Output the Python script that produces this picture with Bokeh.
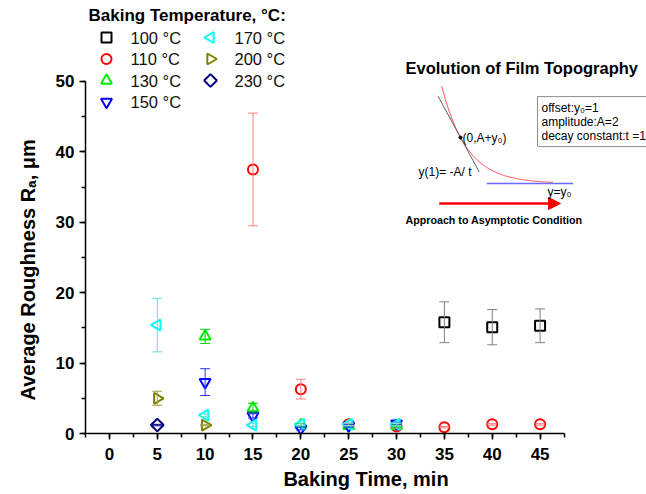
import numpy as np
from bokeh.plotting import figure
from bokeh.models import (Range1d, SingleIntervalTicker, Whisker, TeeHead, ColumnDataSource,
                          Label, Arrow, NormalHead)
from bokeh.core.properties import value
from bokeh.embed import file_html
from bokeh.resources import INLINE

# ---------------- data ----------------
temps = ["100 °C", "110 °C", "130 °C", "150 °C", "170 °C", "200 °C", "230 °C"]

t100 = [35, 40, 45]
r100 = [15.8, 15.1, 15.3]
e100 = [2.9, 2.5, 2.4]

t110 = [15, 20, 25, 30, 35, 40, 45]
r110 = [37.5, 6.3, 1.3, 1.0, 0.9, 1.3, 1.3]
e110 = [8.0, 1.4, 0.2, 0.2, 0.1, 0.1, 0.1]

t130 = [10, 15, 20, 25, 30]
r130 = [13.8, 3.6, 1.2, 1.1, 1.1]
e130 = [1.0, 0.7, 0.2, 0.2, 0.2]

t150 = [10, 15, 20, 25, 30]
r150 = [7.3, 2.5, 0.7, 1.1, 1.4]
e150 = [1.9, 0.3, 0.2, 0.2, 0.2]

t170 = [5, 10, 15, 20, 25, 30]
r170 = [15.4, 2.6, 1.2, 1.3, 1.3, 1.3]
e170 = [3.8, 0.2, 0.2, 0.2, 0.2, 0.2]

t200 = [5, 10]
r200 = [5.0, 1.2]
e200 = [1.0, 0.1]

t230 = [5]
r230 = [1.2]
e230 = [0.1]

# inset model parameters (as written in the inset)
y0 = 1.0
amp = 2.0
tau = 1.0

FONT = "Liberation Sans"

# frame spans the whole drawing area; axes are bounded to the data region
p = figure(frame_width=561, frame_height=433,
           x_range=Range1d(-2.5, 56.12), y_range=Range1d(0, 61.5),
           output_backend="svg", toolbar_location=None,
           min_border_left=85, min_border_top=0, min_border_right=0, min_border_bottom=61)
p.outline_line_color = None
p.xgrid.visible = False
p.ygrid.visible = False
p.background_fill_color = "white"
p.border_fill_color = "white"

for ax, interval, bnds in ((p.xaxis[0], 5, (-2.5, 47.5)), (p.yaxis[0], 10, (0, 50))):
    ax.ticker = SingleIntervalTicker(interval=interval, num_minor_ticks=2)
    ax.bounds = bnds
    ax.axis_line_width = 1.5
    ax.major_tick_line_width = 1.5
    ax.minor_tick_line_width = 1.5
    ax.major_tick_in = 0
    ax.major_tick_out = 6
    ax.minor_tick_in = 0
    ax.minor_tick_out = 4
    ax.major_label_text_font = FONT
    ax.major_label_text_font_style = "bold"
    ax.major_label_text_font_size = "17px"
    ax.major_label_text_color = "black"
    ax.axis_label_text_font = FONT
    ax.axis_label_text_font_style = "bold"
    ax.axis_label_text_font_size = "20px"
    ax.axis_label_text_color = "black"

p.xaxis.axis_label = "Baking Time, min"
p.xaxis.major_label_standoff = 8
p.xaxis.axis_label_standoff = 5
p.yaxis.axis_label = "Average Roughness Rₐ, μm" + "\u00a0" * 19
p.yaxis.major_label_standoff = 5
p.yaxis.axis_label_standoff = 14

# pixel-like helper ranges for the legend block (layout only)
p.extra_x_ranges = {"px": Range1d(85, 646), "ix": Range1d(-15.0, 7.44)}
p.extra_y_ranges = {"px": Range1d(433, 0), "iy": Range1d(-9.87, 8.957)}

series = [
    (t100, r100, e100, "square", 0, 10, "black", "#808080"),
    (t110, r110, e110, "circle", 0, 10, "red", "#ff8080"),
    (t130, r130, e130, "triangle", 0, 11, "#00ee00", "#00cc00"),
    (t150, r150, e150, "inverted_triangle", 0, 11, "blue", "#3030ff"),
    (t170, r170, e170, "triangle", np.pi / 2, 11, "cyan", "#60e0e0"),
    (t200, r200, e200, "triangle", -np.pi / 2, 11, "#808000", "#a0a040"),
    (t230, r230, e230, "square", np.pi / 4, 9, "navy", "navy"),
]

for i, ((tt, rr, ee, marker, ang, size, col, ecol), name) in enumerate(zip(series, temps)):
    src = ColumnDataSource(dict(x=tt, y=rr,
                                lo=[a - b for a, b in zip(rr, ee)],
                                hi=[a + b for a, b in zip(rr, ee)]))
    w = Whisker(base="x", lower="lo", upper="hi", source=src, line_color=ecol, line_width=1,
                upper_head=TeeHead(size=10, line_color=ecol, line_width=1),
                lower_head=TeeHead(size=10, line_color=ecol, line_width=1), level="glyph")
    p.add_layout(w)
    p.scatter("x", "y", source=src, marker=marker, angle=ang, size=size,
              line_color=col, line_width=2, fill_color="white")
    # legend entry (two columns of four rows)
    col_i, row_i = divmod(i, 4)
    gx = 106 + 104 * col_i
    gy = 37 + 21.5 * row_i
    p.scatter([gx], [gy], x_range_name="px", y_range_name="px", marker=marker, angle=ang,
              size=size, line_color=col, line_width=2, fill_color="white")
    p.text([gx + 24], [gy], text=[name], x_range_name="px", y_range_name="px",
           text_font=value(FONT), text_font_size="16.5px", text_baseline="middle",
           text_color="#111111")

p.add_layout(Label(x=3, y=418, x_units="screen", y_units="screen",
                   text="Baking Temperature, °C:", text_font=FONT, text_font_style="bold",
                   text_font_size="17px", text_baseline="middle", text_color="black"))

# ---------------- inset illustration ----------------
ts = np.linspace(-0.75, 3.7, 120)
p.line(ts, y0 + amp * np.exp(-ts / tau), x_range_name="ix", y_range_name="iy",
       line_color="#ff5050", line_width=1)
tt_tan = np.array([-0.9, 0.75])
p.line(tt_tan, y0 + amp - amp / tau * tt_tan, x_range_name="ix", y_range_name="iy",
       line_color="#606060", line_width=1)
p.line([1.05, 4.5], [y0, y0], x_range_name="ix", y_range_name="iy",
       line_color="#6a6aff", line_width=1.5)
p.scatter([0], [y0 + amp], x_range_name="ix", y_range_name="iy", size=3, color="black")
p.add_layout(Arrow(x_start=-0.85, y_start=0.13, x_end=4.0, y_end=0.13,
                   x_range_name="ix", y_range_name="iy", line_color="red", line_width=2.5,
                   end=NormalHead(size=12, fill_color="red", line_color="red")))

def ilabel(x, y, text, size, bold=False, **kw):
    p.add_layout(Label(x=x, y=y, x_range_name="ix", y_range_name="iy", text=text,
                       text_font=FONT, text_font_size=size,
                       text_font_style="bold" if bold else "normal",
                       text_baseline=kw.pop("baseline", "middle"), text_color="black", **kw))

ilabel(-2.2, 6.04, "Evolution of Film Topography", "16.5px", bold=True)
ilabel(0.08, 3.0, "(0,A+y₀)", "12px")
ilabel(-1.68, 1.48, "y(1)= -A/ t", "12px")
ilabel(3.48, 0.61, "y=y₀", "12px")
ilabel(-2.2, -0.57, "Approach to Asymptotic Condition", "10.7px", bold=True)
ilabel(3.08, 4.78, "offset:y₀=1\namplitude:A=2\ndecay constant:t =1", "12px",
       baseline="top", border_line_color="#909090", border_line_width=1,
       background_fill_color="white", padding=4, text_line_height=1.0)

open("out.html", "w").write(file_html(p, INLINE))
